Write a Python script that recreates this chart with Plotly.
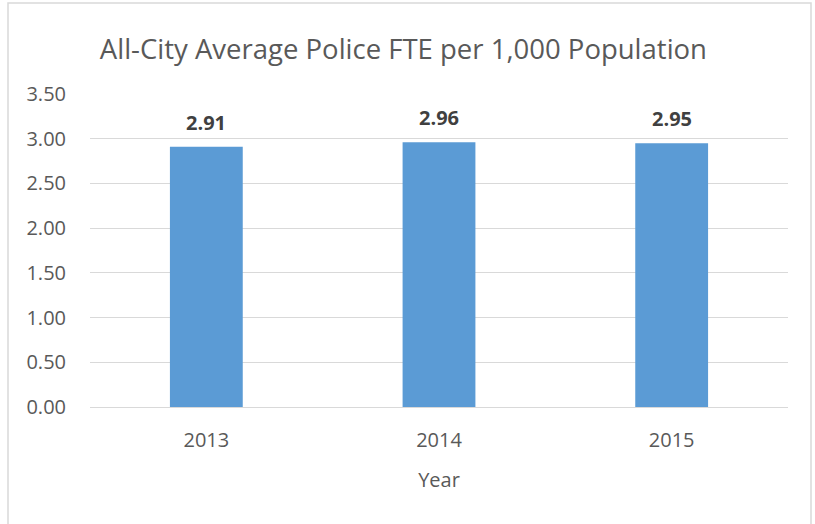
import plotly.graph_objects as go

years = ["2013", "2014", "2015"]
values = [2.91, 2.96, 2.95]
labels = ["2.91", "2.96", "2.95"]
y_ticks = [0, 0.5, 1.0, 1.5, 2.0, 2.5, 3.0, 3.5]
y_tick_text = ["0.00", "0.50", "1.00", "1.50", "2.00", "2.50", "3.00", "3.50"]

font_family = "Open Sans, Noto Sans, Liberation Sans, sans-serif"
pos = list(range(len(years)))

fig = go.Figure()
fig.add_trace(go.Bar(
    x=pos, y=values, width=0.313,
    marker=dict(color="#5b9bd5", line=dict(width=0)),
    hoverinfo="skip",
))

for p, v, t in zip(pos, values, labels):
    fig.add_annotation(x=p, y=v, text="<b>" + t + "</b>", showarrow=False,
                       yanchor="bottom", yshift=9,
                       font=dict(size=20, color="#404040", family=font_family))

fig.update_layout(
    width=815, height=524,
    margin=dict(l=90, r=27, t=94, b=117),
    paper_bgcolor="white", plot_bgcolor="white",
    showlegend=False,
    title=dict(text="All-City Average Police FTE per 1,000 Population",
               x=0.495, xanchor="center", xref="container",
               y=0.905, yanchor="middle",
               font=dict(size=27.5, color="#595959", family=font_family)),
    font=dict(family=font_family, color="#595959"),
)
fig.update_xaxes(
    range=[-0.5, 2.5], tickvals=pos, ticktext=years,
    showgrid=False, showline=True, linecolor="#d9d9d9", linewidth=1, zeroline=False,
    ticks="", tickfont=dict(size=20, color="#595959"),
    ticklabelstandoff=15,
    title=dict(text="Year", font=dict(size=20, color="#595959"), standoff=20),
)
fig.update_yaxes(
    range=[0, 3.5], tickvals=y_ticks, ticktext=y_tick_text,
    showgrid=True, gridcolor="#d9d9d9", gridwidth=1, zeroline=False,
    showline=False, ticks="", tickfont=dict(size=20, color="#595959"),
    ticklabelstandoff=23,
)
fig.add_shape(type="rect", xref="paper", yref="paper",
              x0=(8 - 90) / 698, x1=(811 - 90) / 698,
              y0=(407 - 530) / 313, y1=(407 - 3) / 313,
              line=dict(color="#d9d9d9", width=1.5), fillcolor="rgba(0,0,0,0)",
              layer="below")

fig.write_html("out.html", config={"displayModeBar": False},
               post_script="document.body.style.margin='0';")
